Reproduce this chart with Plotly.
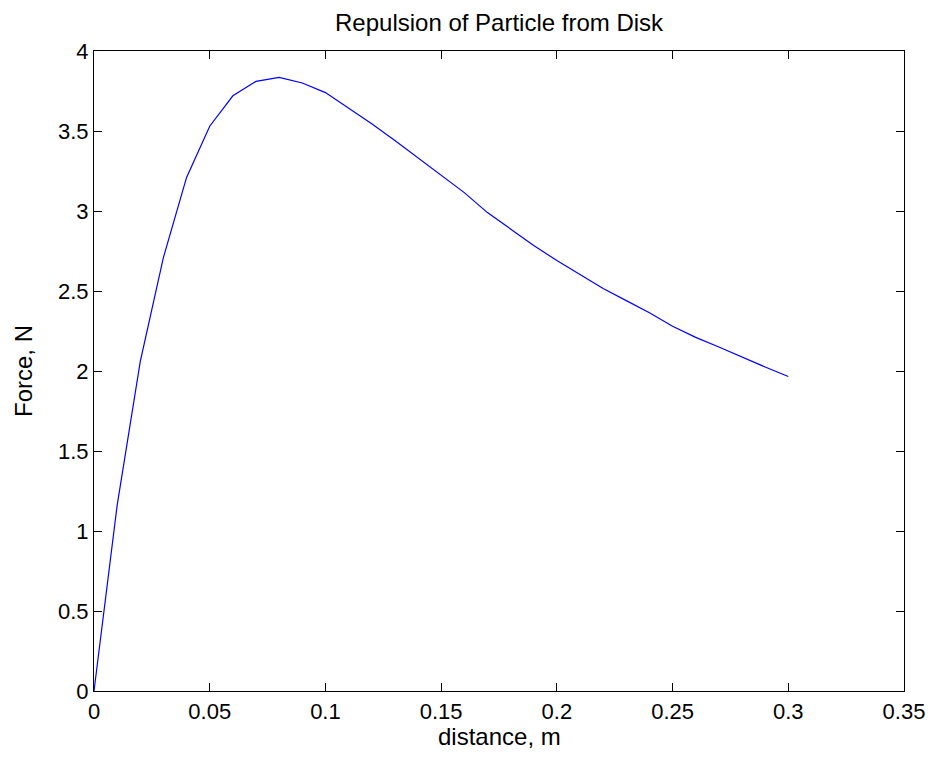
import plotly.graph_objects as go

distance_m = [0.00, 0.01, 0.02, 0.03, 0.04, 0.05, 0.06, 0.07, 0.08, 0.09,
              0.10, 0.11, 0.12, 0.13, 0.14, 0.15, 0.16, 0.17, 0.18, 0.19,
              0.20, 0.21, 0.22, 0.23, 0.24, 0.25, 0.26, 0.27, 0.28, 0.29, 0.30]
force_N = [0.00, 1.16, 2.06, 2.71, 3.21, 3.53, 3.72, 3.81, 3.835, 3.80,
           3.74, 3.645, 3.545, 3.44, 3.33, 3.22, 3.115, 2.99, 2.885, 2.785,
           2.69, 2.60, 2.515, 2.44, 2.364, 2.28, 2.21, 2.15, 2.085, 2.025, 1.966]

x_ticks = [0, 0.05, 0.1, 0.15, 0.2, 0.25, 0.3, 0.35]
x_tick_labels = ["0", "0.05", "0.1", "0.15", "0.2", "0.25", "0.3", "0.35"]
y_ticks = [0, 0.5, 1, 1.5, 2, 2.5, 3, 3.5, 4]
y_tick_labels = ["0", "0.5", "1", "1.5", "2", "2.5", "3", "3.5", "4"]

FONT = "Liberation Sans, Arial, sans-serif"

fig = go.Figure()
fig.add_trace(go.Scatter(x=distance_m, y=force_N, mode="lines",
                         line=dict(color="#0000ff", width=1.2),
                         showlegend=False))

axis_common = dict(showline=True, linecolor="black", linewidth=1.2,
                   mirror="ticks", ticks="inside", ticklen=8, tickwidth=1,
                   tickcolor="black", showgrid=False, zeroline=False,
                   tickfont=dict(family=FONT, size=22, color="black"))

fig.update_xaxes(range=[0, 0.35], tickvals=x_ticks, ticktext=x_tick_labels,
                 **axis_common)
fig.update_yaxes(range=[0, 4], tickvals=y_ticks, ticktext=y_tick_labels,
                 **axis_common)

fig.update_layout(
    width=933, height=757,
    margin=dict(l=94, r=29, t=51, b=66, autoexpand=False),
    paper_bgcolor="white", plot_bgcolor="white",
    annotations=[
        dict(text="Repulsion of Particle from Disk", xref="paper", yref="paper",
             x=0.5, y=1, yshift=29, xanchor="center", yanchor="middle",
             showarrow=False, font=dict(family=FONT, size=24, color="black")),
        dict(text="distance, m", xref="paper", yref="paper",
             x=0.5, y=0, yshift=-45, xanchor="center", yanchor="middle",
             showarrow=False, font=dict(family=FONT, size=24, color="black")),
        dict(text="Force, N", xref="paper", yref="paper",
             x=0, y=0.5, xshift=-71, xanchor="center", yanchor="middle",
             textangle=-90, showarrow=False,
             font=dict(family=FONT, size=24, color="black")),
    ],
)

fig.write_html("out.html",
               config={"displayModeBar": False},
               post_script="document.body.style.margin='0';"
                           "document.body.style.overflow='hidden';")
